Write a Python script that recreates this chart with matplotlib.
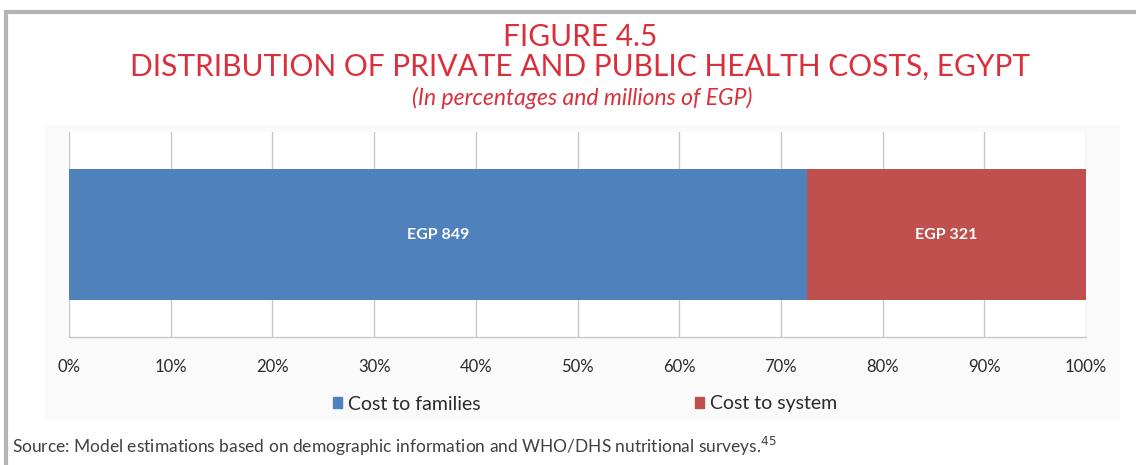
import matplotlib
matplotlib.use("Agg")
import matplotlib.pyplot as plt
from matplotlib.patches import Rectangle
from matplotlib.lines import Line2D

# Data
categories = ["Cost to families", "Cost to system"]
values_egp = [849, 321]
bar_labels = ["EGP 849", "EGP 321"]
colors = ["#4F81BD", "#C0504D"]
xticks = [0, 10, 20, 30, 40, 50, 60, 70, 80, 90, 100]
xtick_labels = [f"{t}%" for t in xticks]

title_color = "#D9303C"

fig = plt.figure(figsize=(11.36, 4.65), dpi=100)

# faint chart panel background
fig.patches.append(Rectangle((45/1136, 1-420/465), (1120-45)/1136, (420-125)/465,
                             transform=fig.transFigure, facecolor="#FAFAFA",
                             edgecolor="none", zorder=-5))

# outer border lines (top and left)
fig.add_artist(Line2D([4/1136, 1.0], [1-12/465, 1-12/465], transform=fig.transFigure,
                      color="#B4B4B8", lw=3, solid_capstyle="butt"))
fig.add_artist(Line2D([5.5/1136, 5.5/1136], [0, 1-12/465], transform=fig.transFigure,
                      color="#B4B4B8", lw=3, solid_capstyle="butt"))

ax = fig.add_axes([69/1136, 1-337/465, (1086-69)/1136, (337-132)/465])
ax.set_zorder(2)
ax.set_facecolor("white")

total = sum(values_egp)
pct = [v / total * 100 for v in values_egp]
left = 0
for p, c, lab, name in zip(pct, colors, bar_labels, categories):
    ax.barh(0, p, left=left, height=0.637, color=c, label=name, zorder=3)
    ax.text(left + p / 2, 0, lab, ha="center", va="center", color="white",
            fontsize=11.5, fontfamily="Lato", fontweight="bold", zorder=4)
    left += p

ax.set_xlim(0, 100)
ax.set_ylim(-0.5, 0.5)
ax.set_xticks(xticks)
ax.set_xticklabels(xtick_labels, fontsize=12, fontfamily="Lato", color="#2a2a2a")
ax.set_yticks([])
ax.tick_params(axis="x", length=0, pad=16)
ax.grid(axis="x", color="#C8C8C8", lw=1, zorder=1)
for s in ["top", "right", "left"]:
    ax.spines[s].set_visible(False)
ax.spines["bottom"].set_color("#C8C8C8")
ax.spines["bottom"].set_linewidth(1)

leg = fig.legend(handles=[Rectangle((0, 0), 1, 1, color=c) for c in colors],
                 labels=categories, loc="center", bbox_to_anchor=(585/1136, 1-404/465),
                 ncol=2, frameon=False, handlelength=0.5, handleheight=0.5,
                 handletextpad=0.3, columnspacing=11,
                 prop={"family": "Lato", "size": 14})
for t in leg.get_texts():
    t.set_color("#2a2a2a")

# Titles
fig.text(580/1136, 1-37/465, "FIGURE 4.5", ha="center", va="center",
         color=title_color, fontsize=21.5, fontfamily="Lato", fontweight="normal")
fig.text(580/1136, 1-67/465, "DISTRIBUTION OF PRIVATE AND PUBLIC HEALTH COSTS, EGYPT",
         ha="center", va="center", color=title_color, fontsize=21.5,
         fontfamily="Lato", fontweight="normal")
fig.text(582/1136, 1-98/465, "(In percentages and millions of EGP)", ha="center",
         va="center", color=title_color, fontsize=16.5, fontfamily="Lato",
         fontweight="normal", fontstyle="italic")

fig.text(12/1136, 1-446/465,
         "Source: Model estimations based on demographic information and WHO/DHS nutritional surveys.$^{45}$",
         ha="left", va="center", color="#404040", fontsize=12.5, fontfamily="Lato",
         fontweight="normal")

fig.savefig("out.png", dpi=100)
